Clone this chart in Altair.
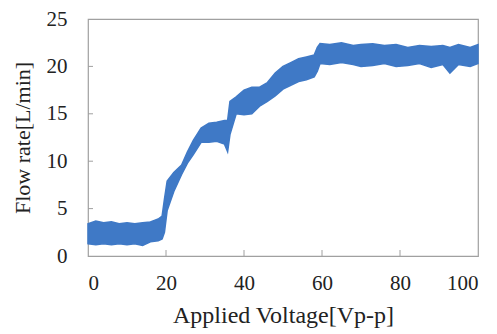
import altair as alt
import pandas as pd

# Applied voltage [Vp-p] and the lower / upper edge of the noisy flow-rate band [L/min]
voltage = [0, 2, 4, 6, 8, 10, 12, 14, 16, 18, 19, 19.6, 20.3, 22, 24, 25.5, 27, 29, 31, 33, 35,
           35.8, 36.4, 38, 40, 42, 44, 46, 48, 50, 52, 54, 56, 58, 58.8, 59.5, 62, 65, 68, 70,
           73, 76, 79, 82, 85, 88, 91, 92.8, 95, 98, 100]
flow_low = [1.3, 1.2, 1.3, 1.2, 1.3, 1.2, 1.3, 1.1, 1.5, 1.6, 1.8, 2.5, 4.8, 6.8, 8.6, 9.8, 10.7,
            12.0, 12.0, 12.1, 11.8, 11.0, 12.8, 15.0, 14.9, 15.0, 15.8, 16.3, 16.9, 17.6, 18.0,
            18.4, 18.6, 18.9, 19.5, 20.3, 20.2, 20.4, 20.2, 20.0, 20.1, 20.3, 20.0, 20.1, 20.3,
            19.9, 20.2, 19.3, 20.2, 20.0, 20.3]
flow_high = [3.4, 3.7, 3.5, 3.6, 3.4, 3.5, 3.4, 3.5, 3.6, 3.9, 4.2, 6.0, 7.9, 8.8, 9.6, 11.0, 12.2,
             13.5, 14.0, 14.1, 14.3, 14.3, 16.3, 16.8, 17.5, 17.8, 17.8, 18.3, 19.3, 20.0, 20.4,
             20.8, 21.0, 21.2, 22.0, 22.4, 22.3, 22.5, 22.2, 22.3, 22.4, 22.2, 22.3, 22.0, 22.2,
             22.1, 22.2, 22.0, 22.3, 22.0, 22.3]

x_ticks = [20, 40, 60, 80]
y_ticks = [5, 10, 15, 20]

df = pd.DataFrame({"v": voltage, "lo": flow_low, "hi": flow_high})

FONT = "Liberation Serif"
BLUE = "#3F79C6"
GRAY = "#A0A0A0"

xscale = alt.Scale(domain=[0, 100], nice=False, zero=False)
yscale = alt.Scale(domain=[0, 25], nice=False)

band = alt.Chart(df).mark_area(color=BLUE, opacity=1, stroke=BLUE, strokeWidth=1.5).encode(
    x=alt.X("v:Q", scale=xscale,
            axis=alt.Axis(values=[0, 20, 40, 60, 80, 100], title="Applied Voltage[Vp-p]",
                          titlePadding=10, titleFontSize=24, labelPadding=16)),
    y=alt.Y("lo:Q", scale=yscale,
            axis=alt.Axis(values=[0, 5, 10, 15, 20, 25], title="Flow rate[L/min]",
                          titlePadding=12, titleFontSize=22, labelPadding=21)),
    y2="hi:Q",
)

xt = alt.Chart(pd.DataFrame({"t": x_ticks})).mark_rule(color=GRAY, strokeWidth=1).encode(
    x=alt.X("t:Q", scale=xscale), y=alt.value(237), y2=alt.value(231)
)
yt = alt.Chart(pd.DataFrame({"t": y_ticks})).mark_rule(color=GRAY, strokeWidth=1).encode(
    y=alt.Y("t:Q", scale=yscale), x=alt.value(0), x2=alt.value(5)
)

chart = alt.layer(band, xt, yt).properties(
    width=390, height=237,
    autosize=alt.AutoSizeParams(type="none"),
    padding={"left": 80, "top": 11, "right": 10, "bottom": 78},
).configure_view(stroke=GRAY, strokeWidth=1.2).configure_axis(
    grid=False, domain=False, ticks=False,
    labelFont=FONT, labelFontSize=21, labelColor="#222222",
    titleFont=FONT, titleColor="#222222", titleFontWeight="normal",
)

chart.save("out.html", embed_options={"renderer": "svg", "actions": False})
